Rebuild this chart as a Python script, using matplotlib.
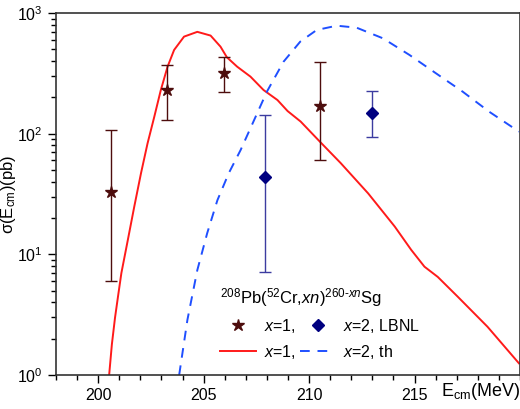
import matplotlib
matplotlib.use("Agg")
import matplotlib.pyplot as plt
from matplotlib.lines import Line2D
from matplotlib.ticker import FixedLocator, MultipleLocator, LogLocator, NullFormatter

plt.rcParams['font.family'] = ['Liberation Sans', 'DejaVu Sans']
plt.rcParams['mathtext.fontset'] = 'custom'
plt.rcParams['mathtext.rm'] = 'Liberation Sans'
plt.rcParams['mathtext.it'] = 'Liberation Sans:italic'

# x=1 experimental data
e1 = [200.6, 203.25, 205.96, 210.5]
s1 = [33, 230, 320, 170]
s1_lo = [6.0, 130, 220, 60]
s1_hi = [108, 370, 430, 390]

# x=2 experimental data (LBNL)
e2 = [207.9, 213.0]
s2 = [44, 149]
s2_lo = [7.1, 94]
s2_hi = [143, 227]

# x=1 theory
th1_e = [200.52, 200.65, 200.8, 200.95, 201.1, 201.4, 201.71, 202.03, 202.34, 202.66, 202.97, 203.29,
         203.6, 204.07, 204.7, 205.33, 205.8, 206.1, 206.59, 207.22, 207.84, 208.5,
         208.98, 209.6, 210.48, 211.5, 212.8, 214.06, 214.84, 215.47, 216.1, 217.04,
         218.46, 219.95]
th1_s = [1.0, 1.8, 3.0, 4.6, 7.0, 13.0, 24.8, 47, 83, 138, 230, 359,
         494, 637, 698, 650, 526, 430, 359, 297, 230, 190,
         154, 126, 87, 57, 32, 17, 10.9, 7.9, 6.5, 4.47,
         2.51, 1.25]

# x=2 theory
th2_e = [203.84, 204.23, 204.7, 205.17, 205.65, 206.19, 206.75, 207.22, 208.0, 208.79,
         209.58, 210.36, 211.31, 212.25, 213.5, 214.76, 216.02, 217.28, 218.54, 219.95]
th2_s = [1.0, 2.86, 7.4, 15, 28, 47, 73, 111, 223, 395,
         579, 723, 785, 756, 617, 449, 316, 223, 152, 104]

fig = plt.figure(figsize=(5.2, 4.09), dpi=100)
ax = fig.add_axes([56/520, 1 - 375/409, (520 - 56)/520, (375 - 13)/409])

ax.plot(th1_e, th1_s, color='#ff1a1a', lw=1.4, zorder=2)
ax.plot(th2_e, th2_s, color='#1f4fff', lw=1.4, ls=(0, (5, 4)), zorder=2)

ax.errorbar(e1, s1, yerr=[[s - l for s, l in zip(s1, s1_lo)], [h - s for s, h in zip(s1, s1_hi)]],
            fmt='*', color='#4d0d0d', ecolor='#4d0d0d', elinewidth=1, capsize=4, capthick=1,
            markersize=9, zorder=3)
ax.errorbar(e2, s2, yerr=[[s - l for s, l in zip(s2, s2_lo)], [h - s for s, h in zip(s2, s2_hi)]],
            fmt='D', color='#000080', ecolor='#3c3ca0', elinewidth=1, capsize=4, capthick=1,
            markersize=6, zorder=3)

ax.set_yscale('log')
ax.set_xlim(198, 220)
ax.set_ylim(1, 1000)
ax.xaxis.set_major_locator(FixedLocator([200, 205, 210, 215]))
ax.xaxis.set_minor_locator(MultipleLocator(1))
ax.yaxis.set_major_locator(LogLocator(base=10, numticks=10))
ax.yaxis.set_minor_locator(LogLocator(base=10, subs=range(2, 10), numticks=10))
ax.yaxis.set_minor_formatter(NullFormatter())
ax.tick_params(which='major', direction='out', length=6, width=1, labelsize=11.5, top=False, right=False)
ax.tick_params(which='minor', direction='out', length=3.5, width=1, top=False, right=False)
for sp in ax.spines.values():
    sp.set_linewidth(1.2)
    sp.set_color('#333333')

ax.set_ylabel('σ(E$_{\\rm cm}$)(pb)', fontsize=12)
ax.yaxis.set_label_coords(-38/464, 0.5)
ax.text(1.0, -0.045, r'E$_{\rm cm}$(MeV)', transform=ax.transAxes, ha='right', va='center', fontsize=13)

h_star = Line2D([], [], marker='*', ls='none', color='#4d0d0d', markersize=9)
h_dia = Line2D([], [], marker='D', ls='none', color='#000080', markersize=6)
h_l1 = Line2D([], [], color='#ff1a1a', lw=1.4)
h_l2 = Line2D([], [], color='#1f4fff', lw=1.4, ls=(0, (5, 4)))
leg = ax.legend([h_star, h_l1, h_dia, h_l2],
                [r'$x$=1,', r'$x$=1,', r'$x$=2, LBNL', r'$x$=2, th'],
                ncol=2, frameon=False, fontsize=11.5, loc='lower left',
                bbox_to_anchor=(150/464, 0.0), handlelength=2.2, handletextpad=0.5,
                columnspacing=0.3, labelspacing=0.5,
                title=r'$^{208}$Pb($^{52}$Cr,$xn$)$^{260\text{-}xn}$Sg', title_fontsize=12)
leg._legend_box.align = 'left'

fig.savefig('out.png', dpi=100)
